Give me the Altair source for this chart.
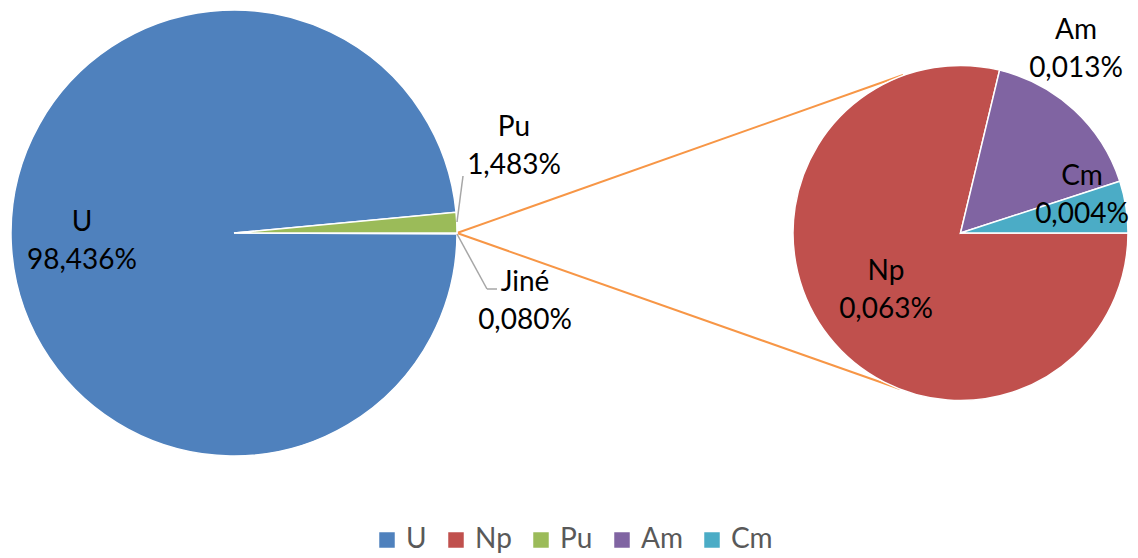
import math
import altair as alt
import pandas as pd

# ---- data ----
main_names = ["Jiné", "U", "Pu"]
main_values = [0.080, 98.436, 1.483]
main_labels = ["0,080%", "98,436%", "1,483%"]

sub_names = ["Np", "Am", "Cm"]
sub_values = [0.063, 0.013, 0.004]
sub_labels = ["0,063%", "0,013%", "0,004%"]

legend_names = ["U", "Np", "Pu", "Am", "Cm"]
color_domain = ["U", "Np", "Pu", "Am", "Cm", "Jiné"]
color_range = ["#4F81BD", "#C0504D", "#9BBB59", "#8064A2", "#4BACC6", "#FFFFFF"]

# ---- layout (chart coordinates) ----
W, H = 1122, 550
BIG_C, BIG_R = (226, 225), 223
SMALL_C, SMALL_R = (952.5, 225), 167.5
FONT = "Lato"
FS = 28

label_pos = {
    "U": (74, 215), "Pu": (506, 120), "Jiné": (517, 275),
    "Np": (878, 264), "Am": (1068, 23), "Cm": (1074, 169),
}
LINE_GAP = 38

main_df = pd.DataFrame({"name": main_names, "value": main_values,
                        "ord": list(range(len(main_names)))})
sub_df = pd.DataFrame({"name": sub_names, "value": sub_values,
                       "ord": list(range(len(sub_names)))})

color = alt.Color("name:N", scale=alt.Scale(domain=color_domain, range=color_range),
                  legend=alt.Legend(values=legend_names, orient="none", direction="horizontal",
                                    legendX=365, legendY=518, title=None,
                                    symbolType="square", symbolSize=240,
                                    symbolStrokeWidth=0, labelFont=FONT,
                                    labelFontSize=FS, labelColor="#595959",
                                    labelOffset=5, columnPadding=15, padding=0))

theta_range = [math.pi / 2, math.pi / 2 + 2 * math.pi]

big = alt.Chart(main_df).mark_arc(radius=BIG_R, stroke="white", strokeWidth=1.5).encode(
    theta=alt.Theta("value:Q", stack=True, scale=alt.Scale(range=theta_range)),
    order=alt.Order("ord:Q"),
    color=color,
    x=alt.value(BIG_C[0]), y=alt.value(BIG_C[1]),
)

small = alt.Chart(sub_df).mark_arc(radius=SMALL_R, stroke="white", strokeWidth=1.5).encode(
    theta=alt.Theta("value:Q", stack=True, scale=alt.Scale(range=theta_range)),
    order=alt.Order("ord:Q"),
    color=alt.Color("name:N", scale=alt.Scale(domain=color_domain, range=color_range), legend=None),
    x=alt.value(SMALL_C[0]), y=alt.value(SMALL_C[1]),
)

# connector lines (orange) and leader lines (gray)
lines_df = pd.DataFrame({
    "x": [449, 449], "y": [225, 225], "x2": [895, 892], "y2": [67, 381],
})
connectors = alt.Chart(lines_df).mark_rule(color="#F79646", strokeWidth=2).encode(
    x=alt.X("x:Q", scale=None), y=alt.Y("y:Q", scale=None),
    x2="x2:Q", y2="y2:Q",
)
leader_df = pd.DataFrame({
    "x": [449, 449, 479], "y": [214, 226, 281], "x2": [455, 479, 489], "y2": [168, 281, 281],
})
leaders = alt.Chart(leader_df).mark_rule(color="#A6A6A6", strokeWidth=1.5).encode(
    x=alt.X("x:Q", scale=None), y=alt.Y("y:Q", scale=None),
    x2="x2:Q", y2="y2:Q",
)

rows = []
for n, lab in zip(main_names + sub_names, main_labels + sub_labels):
    px, py = label_pos[n]
    rows.append({"t": n, "x": px, "y": py})
    rows.append({"t": lab, "x": px, "y": py + LINE_GAP})
text_df = pd.DataFrame(rows)
texts = alt.Chart(text_df).mark_text(font=FONT, fontSize=FS, color="black",
                                     align="center", baseline="middle").encode(
    x=alt.X("x:Q", scale=None), y=alt.Y("y:Q", scale=None), text="t:N",
)

chart = alt.layer(connectors, big, small, leaders, texts).resolve_scale(
    theta="independent"
).properties(width=W, height=H, padding=0, autosize="none").configure_view(stroke=None)

chart.save("out.html", embed_options={"renderer": "svg", "actions": False})
